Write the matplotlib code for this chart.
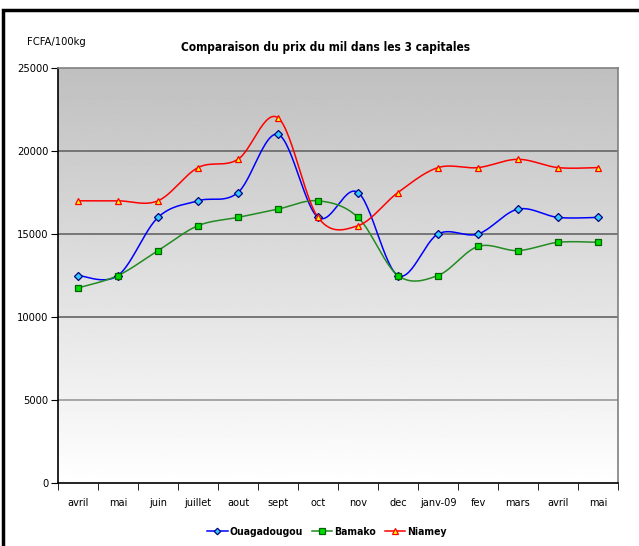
import numpy as np
import matplotlib.pyplot as plt
from matplotlib.patches import Rectangle

mois = ['avril', 'mai', 'juin', 'juillet', 'aout', 'sept', 'oct', 'nov',
        'dec', 'janv-09', 'fev', 'mars', 'avril', 'mai']
ouaga = [12500, 12500, 16000, 17000, 17500, 21000, 16000, 17500, 12500,
         15000, 15000, 16500, 16000, 16000]
bamako = [11750, 12500, 14000, 15500, 16000, 16500, 17000, 16000, 12500,
          12500, 14250, 14000, 14500, 14500]
niamey = [17000, 17000, 17000, 19000, 19500, 22000, 16000, 15500, 17500,
          19000, 19000, 19500, 19000, 19000]

plt.rcParams['font.family'] = ['DejaVu Sans']
plt.rcParams['font.stretch'] = 'condensed'


def smooth(x, y, n=30):
    # Catmull-Rom style smoothing (like Excel "smoothed line")
    x = np.asarray(x, float)
    y = np.asarray(y, float)
    px = np.concatenate([[x[0]], x, [x[-1]]])
    py = np.concatenate([[y[0]], y, [y[-1]]])
    xs, ys = [], []
    t = np.linspace(0, 1, n)
    for i in range(1, len(px) - 2):
        p0, p1, p2, p3 = (np.array([px[j], py[j]]) for j in (i - 1, i, i + 1, i + 2))
        c1 = p1 + (p2 - p0) / 6
        c2 = p2 - (p3 - p1) / 6
        b = ((1 - t) ** 3)[:, None] * p1 + (3 * (1 - t) ** 2 * t)[:, None] * c1 \
            + (3 * (1 - t) * t ** 2)[:, None] * c2 + (t ** 3)[:, None] * p2
        xs.extend(b[:, 0])
        ys.extend(b[:, 1])
    return np.array(xs), np.array(ys)


fig = plt.figure(figsize=(6.39, 5.46), dpi=100)
W, H = 639, 546
ax = fig.add_axes([58 / W, 1 - 483 / H, 560 / W, 415 / H])

x = np.arange(len(mois))
ax.set_xlim(-0.5, len(mois) - 0.5)
ax.set_ylim(0, 25000)

grad = np.linspace(0.75, 1.0, 256)[:, None]
ax.imshow(grad, extent=[-0.5, len(mois) - 0.5, 0, 25000], origin='upper',
          aspect='auto', cmap='gray', vmin=0, vmax=1, zorder=0)

for yv in [5000, 10000, 15000, 20000]:
    ax.axhline(yv, color='#6e6e6e' if yv > 5000 else '#a0a0a0', lw=1.3, zorder=1)

series = [
    ('Ouagadougou', ouaga, '#0000ff', 'D', '#33ccff', '#000080', 3.8),
    ('Bamako', bamako, '#228b22', 's', '#00dd00', '#006400', 4.5),
    ('Niamey', niamey, '#ff0000', '^', '#ffff00', '#ff0000', 5),
]
handles = []
for name, vals, col, mk, fc, ec, ms in series:
    sx, sy = smooth(x, vals)
    ax.plot(sx, sy, color=col, lw=1.1, zorder=3)
    ax.plot(x, vals, ls='none', marker=mk, mfc=fc, mec=ec, ms=ms, mew=0.9, zorder=4)
    h, = ax.plot([], [], color=col, lw=1.1, marker=mk, mfc=fc, mec=ec, ms=ms - 0.5, mew=0.9)
    handles.append(h)

ax.set_xticks(x)
ax.set_xticklabels(mois, fontsize=7.8)
ax.set_xticks(np.arange(-0.5, len(mois)), minor=True)
ax.tick_params(axis='x', which='major', length=0, pad=11)
ax.tick_params(axis='x', which='minor', length=5, color='black')
ax.set_yticks([0, 5000, 10000, 15000, 20000, 25000])
ax.tick_params(axis='y', length=5, labelsize=8, pad=2)
ax.spines['left'].set_color('black')
ax.spines['bottom'].set_color('black')
ax.spines['top'].set_color('#808080')
ax.spines['right'].set_color('#808080')
for s in ax.spines.values():
    s.set_linewidth(1.2)

fig.text(326 / W, 1 - 47 / H, 'Comparaison du prix du mil dans les 3 capitales',
         ha='center', va='center', fontsize=8.6, fontweight='bold')
fig.text(27 / W, 1 - 42 / H, 'FCFA/100kg', ha='left', va='center', fontsize=8)

fig.legend(handles, ['Ouagadougou', 'Bamako', 'Niamey'], loc='center',
           bbox_to_anchor=(327 / W, 1 - 532 / H), ncol=3, frameon=False,
           prop={'weight': 'bold', 'size': 7.5}, handlelength=2.0,
           handletextpad=0.2, columnspacing=0.8)

fig.patches.append(Rectangle((3 / W, -0.1), 1.1, 1 - 10 / H + 0.1,
                             transform=fig.transFigure, fill=False,
                             edgecolor='black', lw=2.5, zorder=10))

fig.savefig('out.png', dpi=100)
